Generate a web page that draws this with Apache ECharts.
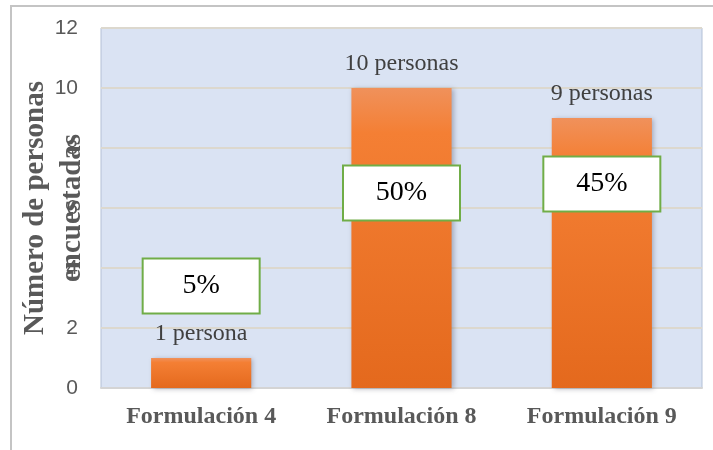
<!DOCTYPE html>
<html>
<head>
<meta charset="utf-8">
<script src="https://cdn.jsdelivr.net/npm/echarts@6/dist/echarts.min.js"></script>
<style>
html, body { margin: 0; padding: 0; background: #fff; overflow: hidden; }
.frame { position: absolute; left: 0; top: 0; width: 713px; height: 450px; }
.edge { position: absolute; left: 10px; top: 5px; width: 800px; height: 600px;
        border-top: 2px solid #c4c4c4; border-left: 2px solid #c4c4c4; }
#chart { position: absolute; left: 0; top: 0; width: 713px; height: 450px; }
</style>
</head>
<body>
<div class="frame">
    <div class="edge"></div>
    <div id="chart"></div>
</div>
<script>
// categorias y valores
var categorias = ['Formulación 4', 'Formulación 8', 'Formulación 9'];
var personas = [1, 10, 9];
var etiquetas = ['1 persona', '10 personas', '9 personas'];
var porcentajes = ['5%', '50%', '45%'];
// altura (en personas) donde se ubica cada recuadro de porcentaje
var alturaRecuadro = [3.4, 6.5, 6.8];
var ticksY = [0, 2, 4, 6, 8, 10, 12];

var chart = echarts.init(document.getElementById('chart'), null, { renderer: 'canvas' });

var option = {
    animation: false,
    grid: {
        left: 101, right: 11, top: 28, bottom: 62,
        outerBoundsMode: 'none',
        containLabel: false,
        show: true,
        backgroundColor: '#dae3f3',
        borderColor: '#b3c0d6',
        borderWidth: 1
    },
    xAxis: {
        type: 'category',
        data: categorias,
        axisLine: { show: true, lineStyle: { color: '#d4d4d4', width: 2 } },
        axisTick: { show: false },
        axisLabel: {
            margin: 17,
            fontFamily: 'Liberation Serif',
            fontWeight: 'bold',
            fontSize: 24,
            color: '#595959'
        }
    },
    yAxis: {
        type: 'value',
        min: ticksY[0],
        max: ticksY[ticksY.length - 1],
        interval: 2,
        name: 'Número de personas\nencuestadas',
        nameLocation: 'middle',
        nameRotate: 90,
        nameGap: 10,
        nameMoveOverlap: false,
        nameTextStyle: {
            fontFamily: 'Liberation Serif',
            fontWeight: 'bold',
            fontSize: 29,
            lineHeight: 37,
            color: '#595959'
        },
        axisLine: { show: false },
        axisTick: { show: false },
        axisLabel: {
            margin: 23,
            fontFamily: 'Liberation Sans',
            fontSize: 21,
            color: '#595959'
        },
        splitLine: { lineStyle: { color: '#dcd8ce', width: 2 } }
    },
    series: [
        {
            name: 'Personas',
            type: 'bar',
            barWidth: '50%',
            data: personas,
            itemStyle: {
                color: new echarts.graphic.LinearGradient(0, 0, 0, 1, [
                    { offset: 0, color: '#f0915b' },
                    { offset: 0.15, color: '#f47f34' },
                    { offset: 1, color: '#e4691d' }
                ]),
                shadowColor: 'rgba(60,60,80,0.35)',
                shadowBlur: 5,
                shadowOffsetX: 2,
                shadowOffsetY: 1
            },
            label: {
                show: true,
                position: 'top',
                distance: 12,
                formatter: function (p) { return etiquetas[p.dataIndex]; },
                fontFamily: 'Liberation Serif',
                fontSize: 24,
                color: '#404040'
            },
            z: 2
        },
        {
            name: 'Porcentaje',
            type: 'scatter',
            symbol: 'rect',
            symbolSize: 1,
            itemStyle: { color: 'rgba(0,0,0,0)', opacity: 1 },
            data: alturaRecuadro,
            label: {
                show: true,
                position: 'inside',
                formatter: function (p) { return porcentajes[p.dataIndex]; },
                fontFamily: 'Liberation Serif',
                fontSize: 28,
                color: '#000',
                backgroundColor: '#fff',
                borderColor: '#70ad47',
                borderWidth: 2,
                width: 115,
                height: 53,
                lineHeight: 53,
                align: 'center'
            },
            z: 5
        }
    ]
};

chart.setOption(option);
</script>
</body>
</html>
